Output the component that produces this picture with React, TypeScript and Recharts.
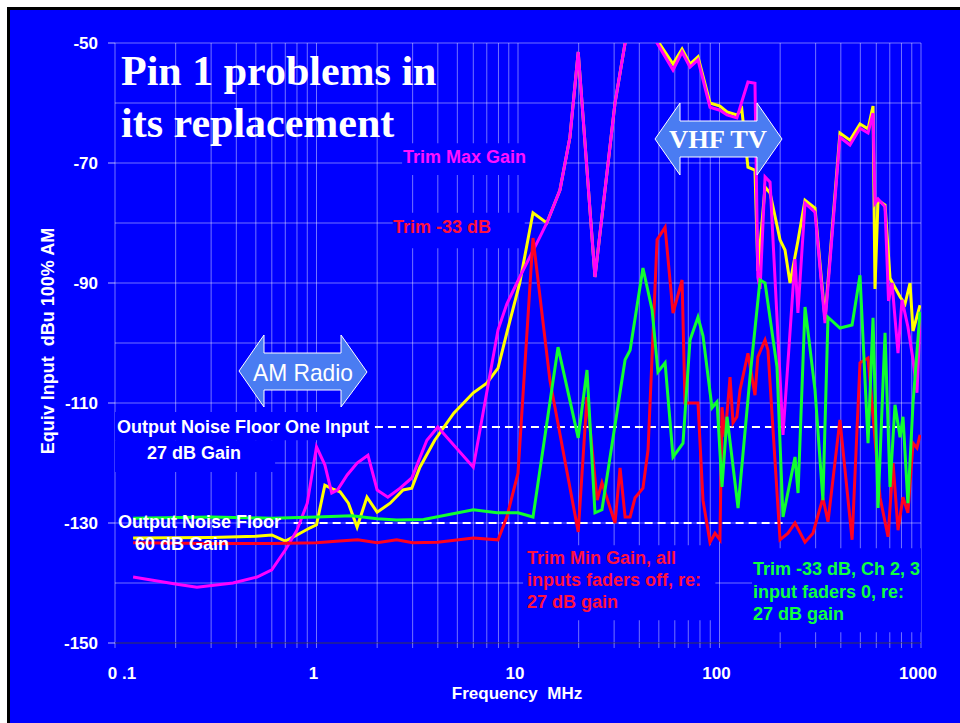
import React from "react";
import {
  CartesianGrid,
  Line,
  LineChart,
  ReferenceArea,
  ReferenceLine,
  XAxis,
  YAxis,
} from "recharts";

type Pt = { f: number; v: number };
const pts = (rows: number[][]): Pt[] => rows.map(([f, v]) => ({ f, v }));

// Frequency (MHz) vs equivalent input (dBu, 100% AM)
const trimMaxGain = pts([
  [0.123, -139], [0.203, -140.2], [0.255, -140.7], [0.385, -140], [0.507, -139],
  [0.6, -137.8], [0.7, -134.5], [0.8, -131.2], [0.9, -126.7], [1.0, -117.3],
  [1.1, -120.3], [1.19, -125], [1.27, -124.5], [1.42, -122], [1.59, -120],
  [1.8, -118.7], [2.0, -124.5], [2.26, -125.7], [2.6, -124.2], [2.97, -122.5],
  [3.53, -116.2], [4.0, -114], [6.0, -120.7], [7.96, -97.8], [8.8, -93.5],
  [10.2, -89], [12.85, -82.3], [13.9, -80], [16.15, -74.5], [18.1, -65.7],
  [19.9, -51.5], [24.1, -89], [30.3, -60], [34, -50], [40, -42], [49, -50],
  [58.8, -54.5], [65.2, -51.5], [71.4, -54], [78.2, -52.8], [89.7, -60.7],
  [100.5, -61.2], [109, -62], [122, -62.5], [129, -59.8], [138.4, -56.5],
  [150, -56.7], [155, -89], [159, -91], [168.3, -72.3], [178.2, -73.2],
  [206.6, -115.3], [237, -86], [245, -95], [265.7, -76.7], [297.8, -78.2],
  [333.9, -96.7], [396, -65.7], [444, -67], [498, -64.2], [546, -65],
  [578, -61.7], [591, -76.7], [612, -76], [663, -77.3], [690, -93],
  [718, -90], [769, -101.7], [805, -92.8], [861, -97.3], [913, -102.8],
  [955, -108.3], [989, -96],
]);

const trimMinus33 = pts([
  [0.123, -132.5], [0.3, -132.4], [0.5, -132.2], [0.6, -132], [0.7, -133],
  [0.8, -132], [0.93, -130.8], [1.0, -130.3], [1.1, -123.7], [1.2, -124.3],
  [1.31, -124.8], [1.44, -126.7], [1.59, -130.7], [1.78, -125.7], [2.0, -128.2],
  [2.32, -126.7], [2.69, -124.5], [2.97, -124.2], [3.26, -120.7], [3.86, -116.2],
  [4.8, -111.7], [6.0, -108.3], [7.0, -106.7], [7.96, -104.2], [8.8, -98.3],
  [10.2, -90], [11.87, -78.3], [13.9, -80], [16.15, -74.5], [18.1, -65.7],
  [19.9, -51.5], [24.1, -89], [30.3, -60], [34, -50], [40, -42], [49, -49.5],
  [58.8, -53.5], [65.2, -51], [71.4, -53.5], [78.2, -52.3], [89.7, -60],
  [100.5, -60.5], [109, -61.5], [122, -62], [129, -61], [138.4, -70.7],
  [150, -71.2], [155, -88], [168.3, -74], [178.2, -75], [199.7, -82.8],
  [211.4, -84.5], [223.9, -90], [245, -83], [265.7, -76.2], [297.8, -77.5],
  [333.9, -96], [396, -65], [444, -66.2], [498, -63.5], [546, -64.3],
  [578, -60.5], [591, -91], [612, -76.2], [663, -77], [702, -89.2],
  [787, -92.3], [833, -93.5], [882, -90], [913, -98], [989, -93.7],
]);

const trimMinGain = pts([
  [0.123, -133.3], [0.3, -133.4], [0.6, -133.4], [1.0, -133.3], [1.3, -133],
  [1.6, -132.8], [2.0, -133.3], [2.5, -132.8], [3.0, -133.3], [4.0, -133.2],
  [6.0, -132.5], [7.96, -132.8], [8.8, -129], [10.0, -121.7], [11.87, -82.5],
  [14.4, -106.2], [19.9, -131.5], [22.0, -109], [24.7, -126.2], [26.1, -123.3],
  [30.3, -130], [32.1, -120.8], [34, -129], [36, -129], [38.1, -125.8],
  [41.7, -124.2], [44.2, -117.8], [49, -82.8], [53.7, -80.7], [58.8, -95],
  [65.2, -89.5], [67.4, -110], [78.2, -110], [82.8, -126.2], [89.7, -133.2],
  [95, -131.7], [100.5, -132.8], [102.9, -110.7], [106.5, -115.7], [112.8, -105.7],
  [116.7, -113.3], [122, -112.3], [126.5, -107.8], [138.4, -101.7], [150, -108.7],
  [155, -102.3], [168.3, -99.5], [174, -101.2], [199.7, -132.8], [218.8, -131.7],
  [237, -130], [265.7, -133.2], [291, -131.7], [326, -125.8], [345.5, -129.8],
  [396, -112.8], [455, -132.8], [498, -103.3], [546, -102.5], [626, -125.7],
  [686, -132.3], [727, -120], [769, -131.2], [814, -125.7], [861, -128.3],
  [913, -116.7], [955, -117.5], [989, -115.3],
]);

const trimCh23 = pts([
  [0.123, -129.2], [0.3, -129], [0.6, -129.2], [1.0, -129], [1.5, -128.8],
  [2.0, -129.3], [2.5, -129.5], [3.4, -129.4], [6.0, -127.8], [7.87, -128.3],
  [10.0, -128.3], [11.87, -129], [15.8, -100.7], [19.9, -115.8], [22.0, -104.5],
  [24.1, -128.3], [26.1, -127.8], [34, -102.8], [36, -101.2], [41.7, -87.5],
  [46.3, -94.5], [49.5, -104.8], [53.7, -103.3], [58.8, -119], [65.9, -116.7],
  [71.4, -99.5], [78.2, -95.7], [82.8, -98.8], [91.8, -110.8], [97.2, -109.8],
  [102.9, -124], [109, -112.3], [123.6, -127.5], [141.7, -105.7], [158.9, -89.5],
  [168.3, -90], [192.9, -104], [206.6, -129], [237, -119], [245.4, -125],
  [265.7, -94], [297.8, -107.8], [326, -126.2], [345.5, -95.7], [396, -97.5],
  [455, -97], [498, -88.7], [546, -116.7], [578, -95.8], [612, -127.5],
  [663, -98.3], [702, -124], [743, -110.3], [787, -115.7], [814, -112.3],
  [861, -126.7], [913, -110], [989, -94.8],
]);

// noise floor references (dBu) and their frequency spans
const floorOneInput = -114;
const floorOneInputSpan = [1.95, 787];
const floorAll = -130;
const floorAllSpan = [0.77, 211];

// log grid and axis ticks
const freqGrid = [
  0.1, 0.2, 0.3, 0.4, 0.5, 0.6, 0.7, 0.8, 0.9,
  1, 2, 3, 4, 5, 6, 7, 8, 9,
  10, 20, 30, 40, 50, 60, 70, 80, 90,
  100, 200, 300, 400, 500, 600, 700, 800, 900, 1000,
];
const decadeTicks = [0.1, 1, 10, 100, 1000];
const decadeLabels = ["0 .1", "1", "10", "100", "1000"];
const levelTicks = [-150, -130, -110, -90, -70, -50];
const levelGrid = [-150, -140, -130, -120, -110, -100, -90, -80, -70, -60, -50];

const BLUE = "#0000ff";
const GRID = "rgba(255,255,255,0.45)";
const SANS = "'Liberation Sans', Arial, sans-serif";
const SERIF = "'Liberation Serif', 'Times New Roman', serif";

const XTick = (props: any) => {
  const { x, y, payload } = props;
  const i = decadeTicks.indexOf(payload.value);
  if (i < 0) return <g />;
  return (
    <text
      x={x + (i === 0 ? 7 : -3)}
      y={y}
      dy={12}
      textAnchor="middle"
      fill="#fff"
      fontSize={17}
      fontWeight="bold"
      fontFamily={SANS}
      style={{ whiteSpace: "pre" }}
    >
      {decadeLabels[i]}
    </text>
  );
};

const label = { fontFamily: SANS, fontSize: 18, fontWeight: "bold" as const };

export default function App() {
  return (
    <div style={{ position: "absolute", left: 0, top: 0, width: 960, height: 723 }}>
      <div
        style={{
          position: "absolute",
          left: 7,
          top: 7,
          width: 953,
          height: 716,
          boxSizing: "border-box",
          background: BLUE,
          borderTop: "3px solid #000",
          borderLeft: "3px solid #000",
        }}
      />
      <div style={{ position: "absolute", left: 0, top: 0 }}>
        <LineChart
          width={960}
          height={723}
          margin={{ top: 43, right: 39, bottom: 40, left: 55 }}
        >
          <CartesianGrid
            stroke={GRID}
            horizontalValues={levelGrid}
            verticalValues={freqGrid}
          />
          <XAxis
            dataKey="f"
            type="number"
            scale="log"
            domain={[0.1, 1000]}
            allowDataOverflow
            ticks={freqGrid}
            interval={0}
            height={40}
            tickSize={5}
            tickMargin={19}
            tickLine={{ stroke: GRID }}
            axisLine={{ stroke: "#000050" }}
            tick={<XTick />}
          />
          <YAxis
            type="number"
            domain={[-150, -50]}
            allowDataOverflow
            ticks={levelTicks}
            width={60}
            tickSize={7}
            tickMargin={10}
            axisLine={false}
            tickLine={{ stroke: "rgba(255,255,255,0.7)" }}
            tick={{ fill: "#fff", fontSize: 17, fontWeight: "bold", fontFamily: SANS }}
          />
          {/* text boxes that break the grid behind the annotations */}
          <ReferenceArea x1={2.66} x2={17.1} y1={-72} y2={-66.7} fill={BLUE} fillOpacity={1} stroke="none" />
          <ReferenceArea x1={2.39} x2={10.8} y1={-84.2} y2={-78.3} fill={BLUE} fillOpacity={1} stroke="none" />
          <ReferenceArea x1={0.1} x2={1.95} y1={-116.2} y2={-111.5} fill={BLUE} fillOpacity={1} stroke="none" />
          <ReferenceArea x1={0.1} x2={0.623} y1={-121.5} y2={-116.2} fill={BLUE} fillOpacity={1} stroke="none" />
          <ReferenceArea x1={10.6} x2={95.4} y1={-146.2} y2={-133.7} fill={BLUE} fillOpacity={1} stroke="none" />
          <ReferenceArea x1={145} x2={1000} y1={-148.2} y2={-134.2} fill={BLUE} fillOpacity={1} stroke="none" />
          <ReferenceLine
            segment={[
              { x: floorOneInputSpan[0], y: floorOneInput },
              { x: floorOneInputSpan[1], y: floorOneInput },
            ]}
            stroke="#fff"
            strokeWidth={2}
            strokeDasharray="8 5"
          />
          <ReferenceLine
            segment={[
              { x: floorAllSpan[0], y: floorAll },
              { x: floorAllSpan[1], y: floorAll },
            ]}
            stroke="#fff"
            strokeWidth={2}
            strokeDasharray="8 5"
          />
          <Line data={trimMinus33} dataKey="v" stroke="#ffff00" strokeWidth={3} dot={false} isAnimationActive={false} />
          <Line data={trimMaxGain} dataKey="v" stroke="#ff00ff" strokeWidth={3} dot={false} isAnimationActive={false} />
          <Line data={trimMinGain} dataKey="v" stroke="#ff0020" strokeWidth={3} dot={false} isAnimationActive={false} />
          <Line data={trimCh23} dataKey="v" stroke="#10ff30" strokeWidth={3} dot={false} isAnimationActive={false} />
        </LineChart>
      </div>
      <svg
        width={960}
        height={723}
        style={{ position: "absolute", left: 0, top: 0, pointerEvents: "none" }}
      >
        <text x={121} y={85} fill="#fff" fontFamily={SERIF} fontWeight="bold" fontSize={42}>
          Pin 1 problems in
        </text>
        <text x={121} y={137} fill="#fff" fontFamily={SERIF} fontWeight="bold" fontSize={42}>
          its replacement
        </text>

        <polygon
          points="655,139 680,103 680,121 757,121 757,103 782,139 757,175 757,157 680,157 680,175"
          fill="#4a7cf2"
          stroke="#fff"
          strokeWidth={1}
        />
        <text x={718} y={148} textAnchor="middle" fill="#fff" fontFamily={SERIF} fontWeight="bold" fontSize={26} textLength={98} lengthAdjust="spacingAndGlyphs">
          VHF TV
        </text>

        <polygon
          points="239,371 264,335 264,353 341,353 341,335 367,372 341,407 341,390 264,390 264,407"
          fill="#4a7cf2"
          stroke="#fff"
          strokeWidth={1}
        />
        <text x={303} y={381} textAnchor="middle" fill="#fff" fontFamily={SANS} fontSize={24} textLength={100} lengthAdjust="spacingAndGlyphs">
          AM Radio
        </text>

        <g {...label} dominantBaseline="central">
          <text x={403} y={157} fill="#ff10ff">Trim Max Gain</text>
          <text x={393} y={227} fill="#ff1040">Trim -33 dB</text>
          <text x={117} y={427} fill="#fff">Output Noise Floor One Input</text>
          <text x={147} y={453} fill="#fff">27 dB Gain</text>
          <text x={118} y={522} fill="#fff">Output Noise Floor</text>
          <text x={135} y={544} fill="#fff">60 dB Gain</text>
          <text x={527} y={558} fill="#ff1040">Trim Min Gain, all</text>
          <text x={527} y={580} fill="#ff1040">inputs faders off, re:</text>
          <text x={527} y={602} fill="#ff1040">27 dB gain</text>
          <text x={753} y={569} fill="#10ff40">Trim -33 dB, Ch 2, 3</text>
          <text x={753} y={592} fill="#10ff40">input faders 0, re:</text>
          <text x={753} y={614} fill="#10ff40">27 dB gain</text>
        </g>

        <text x={517} y={693} dominantBaseline="central" textAnchor="middle" fill="#fff" fontFamily={SANS} fontWeight="bold" fontSize={17} style={{ whiteSpace: "pre" }}>
          {"Frequency  MHz"}
        </text>
        <text
          transform="translate(48,341) rotate(-90)"
          dominantBaseline="central"
          textAnchor="middle"
          fill="#fff"
          fontFamily={SANS}
          fontWeight="bold"
          fontSize={18}
          style={{ whiteSpace: "pre" }}
        >
          {"Equiv Input  dBu 100% AM"}
        </text>
      </svg>
    </div>
  );
}
